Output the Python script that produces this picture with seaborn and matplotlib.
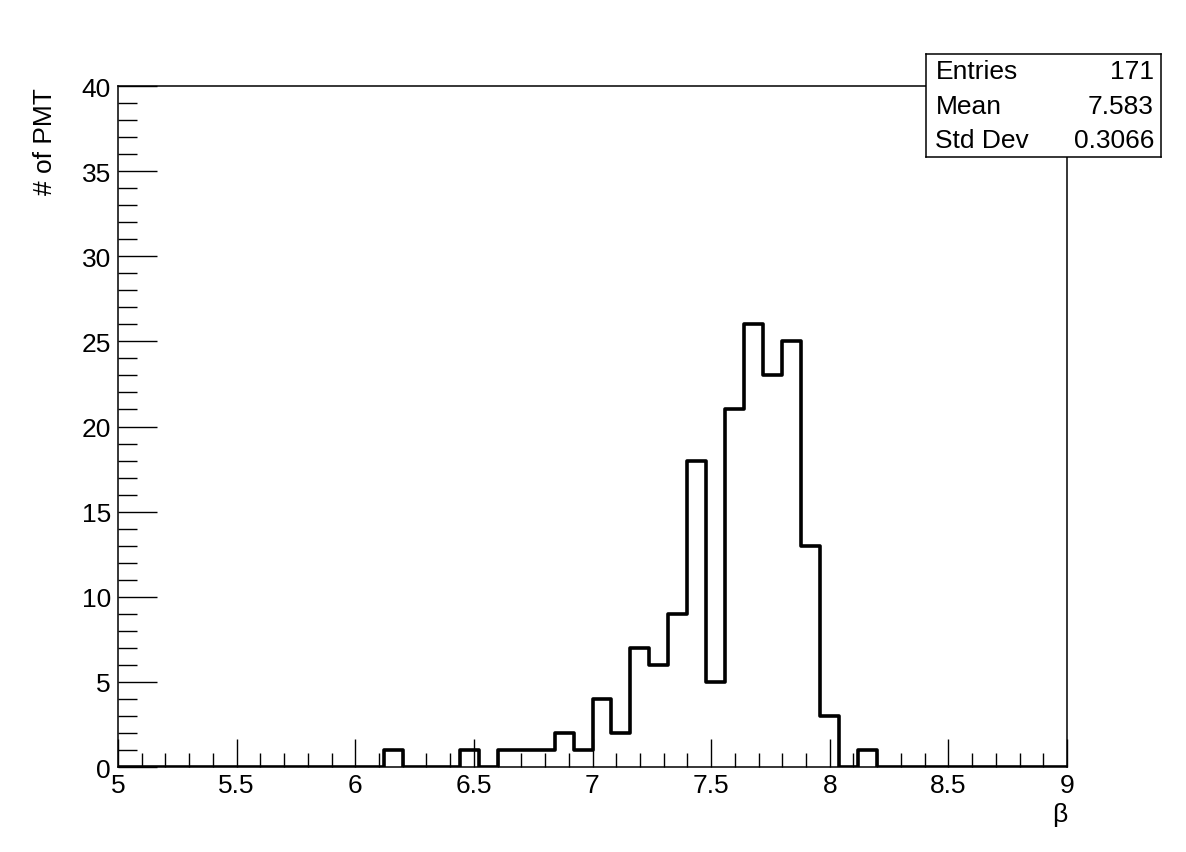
import numpy as np
import pandas as pd
import matplotlib
matplotlib.use("Agg")
import matplotlib.pyplot as plt
from matplotlib.ticker import MultipleLocator
import seaborn as sns

# histogram: 50 bins of 0.08 from 5 to 9, counts
bin_lo = 5.0
bin_hi = 9.0
n_bins = 50
counts = [0, 0, 0, 0, 0, 0, 0, 0, 0, 0,
          0, 0, 0, 0, 1, 0, 0, 0, 1, 0,
          1, 1, 1, 2, 1, 4, 2, 7, 6, 9,
          18, 5, 21, 26, 23, 25, 13, 3, 0, 1,
          0, 0, 0, 0, 0, 0, 0, 0, 0, 0]
stat_names = ["Entries", "Mean", "Std Dev"]
stat_values = ["171", "7.583", "0.3066"]

edges = np.linspace(bin_lo, bin_hi, n_bins + 1)
centers = 0.5 * (edges[:-1] + edges[1:])
df = pd.DataFrame({"beta": centers, "n": counts})

sns.set_style("ticks")
plt.rcParams['font.family'] = ['Liberation Sans', 'DejaVu Sans']
plt.rcParams['text.color'] = 'black'
plt.rcParams['xtick.color'] = 'black'
plt.rcParams['ytick.color'] = 'black'
fs = 19

fig = plt.figure(figsize=(11.86, 8.53), dpi=100)
ax = fig.add_axes([118/1186, 1 - 768/853, (1067-118)/1186, (768-87)/853])

sns.histplot(data=df, x="beta", weights="n", bins=n_bins, binrange=(bin_lo, bin_hi),
             element="step", fill=False, color="black", linewidth=2.6, ax=ax)

ax.set_xlim(bin_lo, bin_hi)
ax.set_ylim(0, 40)
ax.xaxis.set_major_locator(MultipleLocator(0.5))
ax.xaxis.set_minor_locator(MultipleLocator(0.1))
ax.yaxis.set_major_locator(MultipleLocator(5))
ax.yaxis.set_minor_locator(MultipleLocator(1))
ax.xaxis.set_major_formatter(plt.FuncFormatter(lambda v, p: f"{v:g}"))
ax.tick_params(axis="x", which="major", direction="in", length=20, width=1, labelsize=fs, pad=4)
ax.tick_params(axis="x", which="minor", direction="in", length=10, width=1)
ax.tick_params(axis="y", which="major", direction="in", length=28, width=1, labelsize=fs, pad=5)
ax.tick_params(axis="y", which="minor", direction="in", length=14, width=1)
for s in ax.spines.values():
    s.set_visible(True)
    s.set_linewidth(1.1)
    s.set_color("black")

ax.set_xlabel("")
ax.set_ylabel("")
fig.text(1060/1186, 1 - 815/853, "β", ha="center", va="center", fontsize=fs)
fig.text(45/1186, 1 - 88/853, "# of PMT", ha="center", va="top", rotation=90, fontsize=fs)

# stats box
bx0, by0, bx1, by1 = 926, 55, 1161, 158
ax_box = fig.add_axes([bx0/1186, 1 - by1/853, (bx1-bx0)/1186, (by1-by0)/853])
ax_box.set_xticks([])
ax_box.set_yticks([])
ax_box.set_xlim(0, 1)
ax_box.set_ylim(0, 3)
for s in ax_box.spines.values():
    s.set_linewidth(1.1)
    s.set_color("black")
for i, (nm, val) in enumerate(zip(stat_names, stat_values)):
    yy = 2.5 - i
    ax_box.text(0.04, yy, nm, ha="left", va="center", fontsize=fs)
    ax_box.text(0.97, yy, val, ha="right", va="center", fontsize=fs)

fig.savefig("out.png", dpi=100)
